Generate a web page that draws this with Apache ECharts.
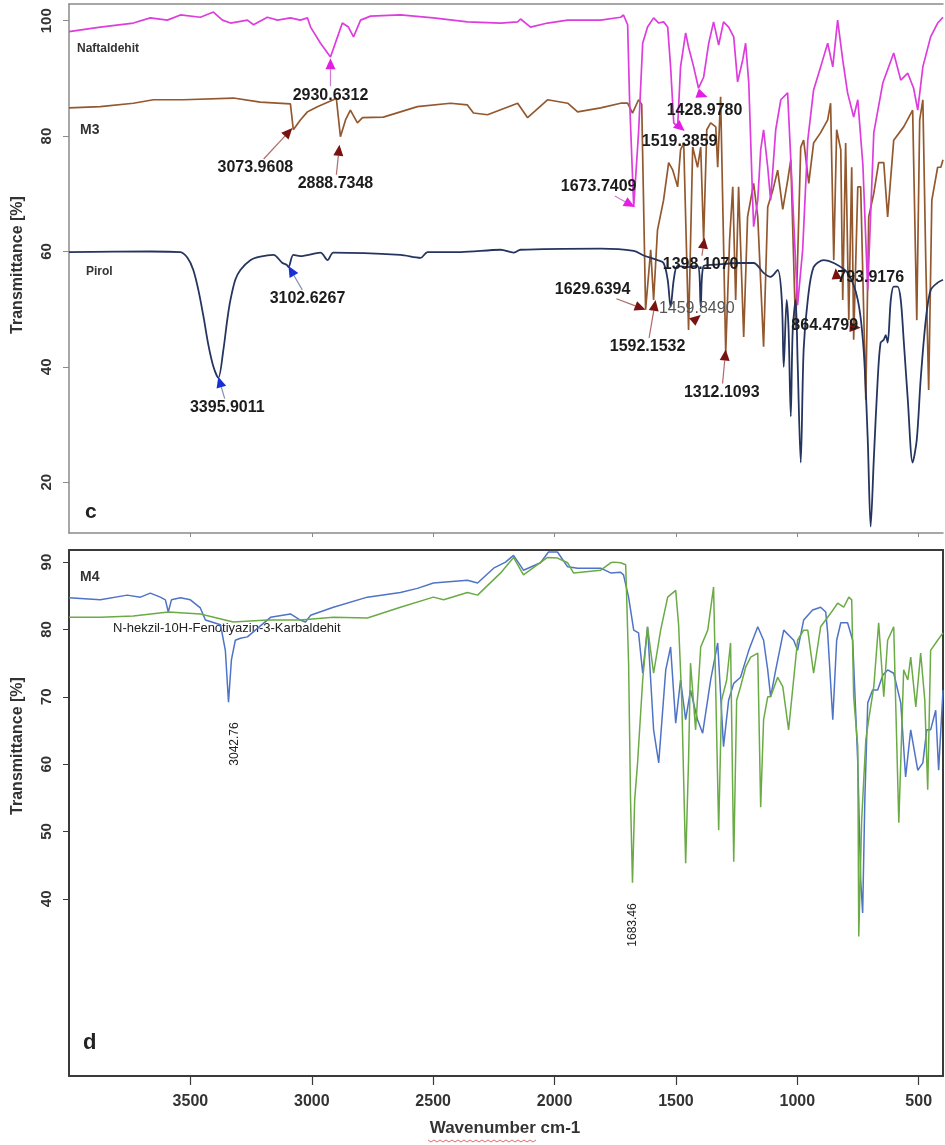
<!DOCTYPE html>
<html>
<head>
<meta charset="utf-8">
<title>FTIR c / d</title>
<script src="https://cdn.jsdelivr.net/npm/echarts@6/dist/echarts.min.js"></script>
<style>
  html, body { margin: 0; padding: 0; background: #fff; }
  #chart { width: 945px; height: 1145px; }
</style>
</head>
<body>
<div id="chart"></div>
<script>
// wavenumber (cm-1), transmittance (%)
const naftaldehit = [
  [4000, 98.1], [3871, 98.9], [3735, 99.6], [3665, 100.5], [3595, 100.1], [3541, 101], [3459, 100.6],
  [3405, 101.5], [3368, 100.1], [3335, 99.6], [3265, 100.1], [3240, 99.3], [3183, 100.6], [3141, 100.1],
  [3088, 100.5], [3047, 100.1], [3018, 100.5], [3005, 98.9], [2964, 96.1], [2923, 93.7], [2894, 97.2],
  [2874, 99.6], [2849, 98.9], [2828, 97.2], [2799, 100.1], [2758, 100.8], [2635, 101], [2499, 100.5],
  [2359, 99.8], [2222, 99.6], [2152, 99.8], [2140, 100.3], [2099, 98.9], [2029, 99.6], [1946, 100.1],
  [1810, 100.1], [1728, 100.6], [1716, 101], [1699, 99.3], [1691, 86.3], [1674, 67.7], [1654, 80.6],
  [1637, 96.1], [1617, 98.9], [1592, 100.5], [1571, 99.6], [1551, 99.8], [1534, 98.9], [1522, 92],
  [1509, 82.3], [1493, 81.6], [1481, 92], [1460, 97.9], [1448, 95.4], [1427, 92], [1407, 88.3],
  [1386, 90.2], [1365, 96.1], [1345, 99.8], [1324, 95.8], [1304, 99.8], [1283, 98.9], [1262, 97.2],
  [1246, 89.4], [1225, 93.2], [1213, 96.1], [1200, 89.2], [1184, 68.9], [1180, 64.3], [1163, 68.9],
  [1151, 77.6], [1139, 81.1], [1122, 74.6], [1110, 68.9], [1089, 81.1], [1068, 86.3], [1040, 87.5],
  [1019, 68.9], [999, 50.7], [978, 60.3], [957, 79.3], [933, 88], [904, 92], [875, 96.1], [854, 92],
  [834, 100.1], [813, 93.2], [793, 87.5], [768, 83.3], [751, 86.3], [730, 75], [710, 53.3], [685, 80.6],
  [648, 89.2], [603, 94.4], [574, 89.7], [545, 90.9], [521, 88.3], [504, 84.5], [483, 92], [451, 97.2],
  [422, 99.6], [400, 100.6]
];
const m3 = [
  [4000, 84.9], [3871, 85.1], [3735, 85.7], [3652, 86.3], [3529, 86.3], [3323, 86.6], [3212, 85.9],
  [3088, 85.6], [3076, 81.1], [3047, 82.8], [3018, 84.2], [3005, 84.5], [2977, 85.1], [2911, 86.3],
  [2899, 86.6], [2882, 79.9], [2861, 82.8], [2841, 84.5], [2812, 82.3], [2791, 83.2], [2705, 83.3],
  [2565, 85.1], [2429, 85.7], [2359, 85.4], [2334, 84], [2276, 83.7], [2152, 85.7], [2111, 83.2],
  [2029, 86.3], [1946, 85.7], [1905, 84.2], [1810, 84.9], [1728, 85.7], [1699, 85.7], [1679, 84],
  [1654, 86.3], [1641, 85.5], [1625, 49.9], [1604, 60.3], [1592, 51.6], [1576, 63.7], [1551, 68.9],
  [1530, 75.4], [1513, 74.1], [1493, 71.2], [1481, 77.6], [1468, 78.8], [1448, 46.4], [1431, 78.1],
  [1411, 74.6], [1398, 78.1], [1386, 62], [1373, 81.1], [1357, 82.3], [1336, 81.6], [1328, 74.6],
  [1316, 86.8], [1308, 86.8], [1295, 42.5], [1279, 62], [1266, 71.2], [1254, 51.6], [1242, 71.2],
  [1221, 45.2], [1205, 66], [1180, 71.8], [1163, 66], [1139, 43.5], [1122, 67.7], [1101, 70.6],
  [1081, 74.1], [1060, 67.3], [1040, 72.3], [1027, 75.9], [1007, 46.4], [986, 78.1], [974, 79.3],
  [953, 71.8], [933, 78.8], [904, 80.6], [875, 82.8], [863, 85.7], [850, 58.5], [838, 81.1], [821, 77.6],
  [813, 51.6], [801, 78.8], [788, 48.1], [776, 74.6], [768, 44.7], [751, 71.2], [739, 71.2], [718, 34.3],
  [706, 66], [685, 70.1], [665, 75.4], [644, 75.4], [628, 66], [603, 79.3], [562, 81.6], [525, 84.5],
  [508, 48.1], [496, 82.8], [483, 86.3], [471, 58.5], [459, 36], [446, 68.9], [422, 74.6], [409, 74.6],
  [400, 75.9]
];
const pirol = [
  [4000, 59.9], [3665, 60], [3541, 59.9], [3512, 58.9], [3488, 56.8], [3467, 53.3], [3446, 48.7],
  [3426, 43.8], [3405, 40], [3385, 38.1], [3364, 43], [3348, 48.2], [3335, 51.6], [3315, 55.1],
  [3294, 56.8], [3253, 58.5], [3212, 59.1], [3158, 59.4], [3121, 58], [3104, 57.7], [3096, 57.3],
  [3076, 59.4], [3047, 59.2], [2964, 59.8], [2935, 58.5], [2911, 59.8], [2635, 59.4], [2552, 58.9],
  [2523, 59.9], [2387, 59.9], [2222, 60.3], [2169, 59.8], [2140, 60.3], [1810, 60.5], [1674, 60.1],
  [1633, 59.3], [1576, 58.5], [1551, 58], [1534, 55.1], [1522, 50.4], [1509, 55.1], [1493, 57.5],
  [1452, 57.3], [1411, 57.5], [1398, 50.4], [1386, 57.5], [1345, 57.7], [1234, 58], [1180, 58],
  [1139, 56.3], [1110, 55.6], [1081, 56.8], [1064, 51.6], [1056, 40], [1044, 51.6], [1036, 46.4],
  [1027, 31.4], [1019, 46.4], [1007, 51.6], [999, 41.2], [986, 23.4], [974, 43], [957, 51.6],
  [933, 57.3], [891, 58.5], [850, 58], [793, 56.3], [751, 51.6], [727, 43], [710, 27.4], [698, 12.3],
  [685, 24], [669, 37.8], [657, 44.2], [644, 44.7], [636, 45.5], [628, 44.2], [615, 51.6], [603, 53.9],
  [587, 53.9], [574, 51.6], [562, 44.7], [545, 34.3], [525, 23.4], [508, 27.4], [492, 37.8], [471, 48.1],
  [451, 53.3], [422, 54.6], [400, 55.1]
];
const m4 = [
  [4000, 84.7], [3871, 84.4], [3760, 85.1], [3706, 84.8], [3665, 85.4], [3624, 84.8], [3603, 84.4],
  [3591, 82.6], [3578, 84.4], [3541, 84.7], [3500, 84.4], [3459, 83.2], [3438, 81.4], [3376, 80.7],
  [3356, 76.9], [3343, 69.2], [3331, 75.5], [3315, 78.4], [3294, 78.7], [3265, 78.9], [3170, 81.8],
  [3088, 82.3], [3047, 81.4], [3026, 81.1], [3005, 82.1], [2911, 83.3], [2771, 84.8], [2635, 85.5],
  [2565, 86.1], [2499, 86.9], [2359, 87.3], [2317, 86.9], [2251, 89.1], [2202, 90], [2169, 91],
  [2128, 88.8], [2058, 89.9], [2025, 91.5], [1988, 91.5], [1946, 89.3], [1905, 89.1], [1810, 89.1],
  [1769, 88.4], [1728, 88.5], [1716, 88.1], [1695, 84.8], [1674, 79.9], [1654, 79.5], [1637, 73.5],
  [1617, 80.4], [1592, 65.1], [1571, 60.2], [1542, 74], [1522, 77.4], [1501, 66.1], [1481, 72.5],
  [1460, 66.6], [1440, 71], [1411, 66.6], [1390, 64.6], [1357, 72.5], [1328, 78], [1304, 62.6],
  [1283, 69.5], [1262, 72], [1234, 72.9], [1200, 76.9], [1163, 80.4], [1139, 78.4], [1122, 74],
  [1110, 70], [1089, 74], [1056, 79.9], [1015, 78.4], [999, 76.9], [974, 81.4], [937, 82.9], [904, 83.3],
  [883, 82.6], [875, 79.5], [854, 66.6], [838, 78.4], [821, 81], [793, 81], [772, 78.4], [751, 60.2],
  [739, 42.8], [731, 37.9], [722, 54.7], [710, 69.1], [690, 71], [669, 71], [648, 73.2], [628, 74],
  [603, 73.5], [574, 69.1], [554, 58.1], [533, 65.1], [525, 65.1], [504, 59.1], [483, 60.2], [467, 65.1],
  [451, 65.1], [430, 68], [418, 59.1], [400, 71]
];
const karbaldehit = [
  [4000, 81.8], [3871, 81.8], [3735, 82], [3591, 82.6], [3459, 82.3], [3323, 81.1], [3183, 81.4],
  [3047, 81.4], [2911, 81.8], [2771, 81.7], [2635, 83.3], [2499, 84.8], [2457, 84.4], [2359, 85.5],
  [2317, 85.1], [2222, 88.4], [2169, 90.7], [2128, 88.1], [2029, 90.7], [1988, 90.6], [1946, 89.9],
  [1922, 88.4], [1810, 88.8], [1769, 89.9], [1757, 90], [1728, 89.9], [1707, 89.6], [1695, 75],
  [1687, 54.7], [1679, 42.4], [1670, 54.7], [1658, 60.2], [1637, 72.5], [1617, 80.4], [1592, 73.5],
  [1563, 79.9], [1534, 84.8], [1501, 85.8], [1489, 80.7], [1476, 69.5], [1460, 45.3], [1448, 60.6],
  [1440, 75], [1419, 65.1], [1398, 77.4], [1369, 79.9], [1345, 86.3], [1324, 50.2], [1312, 69.5],
  [1291, 72.5], [1275, 78], [1262, 45.5], [1250, 69.5], [1234, 71.5], [1213, 74.4], [1192, 75.9],
  [1163, 76.5], [1151, 53.6], [1139, 66.6], [1122, 70], [1110, 70], [1081, 72.9], [1060, 71.5],
  [1036, 65.1], [999, 78.4], [974, 79.9], [957, 79.9], [933, 73.5], [904, 80.4], [863, 82.4], [834, 83.9],
  [809, 83.3], [788, 84.8], [776, 84.4], [768, 70], [751, 62.6], [747, 34.4], [735, 51.7], [718, 63.6],
  [706, 66.6], [685, 71.5], [665, 81], [644, 70], [628, 78.4], [603, 80.4], [582, 51.3], [562, 74],
  [545, 72.5], [533, 75.9], [512, 68.5], [492, 76.5], [475, 69.5], [463, 56.2], [451, 76.9], [422, 78.4],
  [400, 79.5]
];

const xTicks = [3500, 3000, 2500, 2000, 1500, 1000, 500];
const yTicksC = [20, 40, 60, 80, 100];
const yTicksD = [40, 50, 60, 70, 80, 90];

// marked peaks in panel c: wavenumber, transmittance, text, spectrum
const peaksC = [
  [2923, 93.5, '2930.6312', 'naft'],
  [3080, 81.4, '3073.9608', 'm3'],
  [2886, 78.5, '2888.7348', 'm3'],
  [1670, 67.7, '1673.7409', 'naft'],
  [1464, 80.9, '1519.3859', 'naft'],
  [1370, 86.8, '1428.9780', 'naft'],
  [1382, 62.4, '1398.1070', 'm3'],
  [1625, 49.9, '1629.6394', 'm3'],
  [1584, 51.6, '1592.1532', 'm3'],
  [1398, 49.0, '1459.8490', 'm3'],
  [1295, 43.0, '1312.1093', 'm3'],
  [739, 46.8, '864.4799', 'm3'],
  [842, 57.1, '793.9176', 'm3'],
  [3385, 38.3, '3395.9011', 'pirol'],
  [3096, 57.5, '3102.6267', 'pirol']
];
// label placement for each peak (px offsets), optional arrow direction in degrees
const peakLayout = [
  { dx: 0, dy: 37 },
  { dx: -37, dy: 40 },
  { dx: -4, dy: 39 },
  { dx: -36, dy: -20 },
  { dx: -5, dy: 11, dir: -40, noLine: true },
  { dx: -3, dy: 14, dir: -20, noLine: true },
  { dx: -4, dy: 27 },
  { dx: -53, dy: -20 },
  { dx: -8, dy: 47 },
  { dx: -4, dy: -6, dir: 40, noLine: true, light: true },
  { dx: -4, dy: 43 },
  { dx: -36, dy: -2, noLine: true },
  { dx: 35, dy: 9, dir: 95, noLine: true },
  { dx: 9, dy: 31 },
  { dx: 19, dy: 33 }
];

const colors = {
  naft: '#dd3ddd',
  m3: '#93582e',
  pirol: '#25355f',
  m4: '#4f73c6',
  karb: '#6aab45'
};
const arrowColors = { naft: '#e41fe4', m3: '#7a1212', pirol: '#1730d6' };
const leaderColors = { naft: '#d27ad2', m3: '#b06a6a', pirol: '#8090b0' };

const FONT = '"Liberation Sans", Arial, sans-serif';

function renderPeak(params, api) {
  const i = params.dataIndex;
  const peak = peaksC[i];
  const lay = peakLayout[i];
  const p = api.coord([api.value(0), api.value(1)]);
  let ux, uy;
  if (lay.dir != null) {
    const a = lay.dir * Math.PI / 180;
    ux = Math.cos(a); uy = -Math.sin(a);
  } else {
    const d = Math.hypot(lay.dx, lay.dy) || 1;
    ux = -lay.dx / d; uy = -lay.dy / d;
  }
  const L = 11, W = 5;
  const bx = p[0] - ux * L, by = p[1] - uy * L;
  const tx = p[0] + lay.dx, ty = p[1] + lay.dy;
  const children = [];
  if (!lay.noLine) {
    const vx = tx - bx, vy = ty - by;
    const s = Math.min(vx ? 40 / Math.abs(vx) : Infinity, vy ? 9 / Math.abs(vy) : Infinity);
    if (s < 1) {
      children.push({
        type: 'line',
        shape: { x1: bx, y1: by, x2: tx - vx * s, y2: ty - vy * s },
        style: { stroke: leaderColors[peak[3]], lineWidth: 1.2 }
      });
    }
  }
  children.push({
    type: 'polygon',
    shape: { points: [[p[0], p[1]], [bx - uy * W, by + ux * W], [bx + uy * W, by - ux * W]] },
    style: { fill: arrowColors[peak[3]] }
  });
  children.push({
    type: 'text',
    style: {
      text: peak[2], x: tx, y: ty, align: 'center', verticalAlign: 'middle',
      font: (lay.light ? '' : 'bold ') + '16px ' + FONT,
      fill: lay.light ? '#555' : '#1c1c1c'
    }
  });
  return { type: 'group', children };
}

const chart = echarts.init(document.getElementById('chart'), null, { renderer: 'canvas' });

const grayAxis = '#8a8a8a';
const darkAxis = '#3a3a3a';
const plain = v => String(v);

chart.setOption({
  animation: false,
  backgroundColor: '#fff',
  grid: [
    { left: 69, right: 2, top: 4, height: 529 },
    { left: 69, right: 2, top: 550, height: 526 }
  ],
  xAxis: [
    {
      gridIndex: 0, type: 'value', min: 400, max: 4000, inverse: true,
      axisLine: { show: true, lineStyle: { color: grayAxis, width: 1.5 } },
      axisTick: { show: true, customValues: xTicks, length: 4, lineStyle: { color: grayAxis } },
      axisLabel: { show: false }, splitLine: { show: false }
    },
    {
      gridIndex: 0, type: 'value', position: 'top', min: 400, max: 4000, inverse: true,
      axisLine: { show: true, lineStyle: { color: grayAxis, width: 1.5 } },
      axisTick: { show: false }, axisLabel: { show: false }, splitLine: { show: false }
    },
    {
      gridIndex: 1, type: 'value', min: 400, max: 4000, inverse: true,
      axisLine: { show: true, lineStyle: { color: darkAxis, width: 2 } },
      axisTick: { show: true, customValues: xTicks, length: 9, lineStyle: { color: darkAxis, width: 1.2 } },
      axisLabel: {
        customValues: xTicks, formatter: plain, margin: 18, color: '#333',
        fontFamily: FONT, fontWeight: 'bold', fontSize: 16
      },
      splitLine: { show: false }
    },
    {
      gridIndex: 1, type: 'value', position: 'top', min: 400, max: 4000, inverse: true,
      axisLine: { show: true, lineStyle: { color: darkAxis, width: 2 } },
      axisTick: { show: false }, axisLabel: { show: false }, splitLine: { show: false }
    }
  ],
  yAxis: [
    {
      gridIndex: 0, type: 'value', min: 11.2, max: 102.9,
      axisLine: { show: true, lineStyle: { color: grayAxis, width: 1.5 } },
      axisTick: { show: true, customValues: yTicksC, length: 6, lineStyle: { color: grayAxis } },
      axisLabel: {
        customValues: yTicksC, formatter: plain, rotate: 90, margin: 15, color: '#333',
        fontFamily: FONT, fontWeight: 'bold', fontSize: 15
      },
      splitLine: { show: false }
    },
    {
      gridIndex: 1, type: 'value', min: 13.7, max: 91.8,
      axisLine: { show: true, lineStyle: { color: darkAxis, width: 2 } },
      axisTick: { show: true, customValues: yTicksD, length: 6, lineStyle: { color: darkAxis } },
      axisLabel: {
        customValues: yTicksD, formatter: plain, rotate: 90, margin: 15, color: '#333',
        fontFamily: FONT, fontWeight: 'bold', fontSize: 15
      },
      splitLine: { show: false }
    },
    {
      gridIndex: 1, type: 'value', position: 'right', min: 13.7, max: 91.8,
      axisLine: { show: true, lineStyle: { color: darkAxis, width: 2 } },
      axisTick: { show: false }, axisLabel: { show: false }, splitLine: { show: false }
    }
  ],
  series: [
    {
      name: 'M3', type: 'line', xAxisIndex: 0, yAxisIndex: 0, data: m3,
      showSymbol: false, lineStyle: { color: colors.m3, width: 1.7 }
    },
    {
      name: 'Naftaldehit', type: 'line', xAxisIndex: 0, yAxisIndex: 0, data: naftaldehit,
      showSymbol: false, lineStyle: { color: colors.naft, width: 1.7 }
    },
    {
      name: 'Pirol', type: 'line', xAxisIndex: 0, yAxisIndex: 0, data: pirol,
      showSymbol: false, smooth: 0.3, lineStyle: { color: colors.pirol, width: 1.8 }
    },
    {
      name: 'peaks', type: 'custom', xAxisIndex: 0, yAxisIndex: 0, clip: false, z: 5,
      data: peaksC.map(p => [p[0], p[1]]),
      renderItem: renderPeak
    },
    {
      name: 'M4', type: 'line', xAxisIndex: 2, yAxisIndex: 1, data: m4,
      showSymbol: false, lineStyle: { color: colors.m4, width: 1.5 }
    },
    {
      name: 'N-hekzil-10H-Fenotiyazin-3-Karbaldehit', type: 'line', xAxisIndex: 2, yAxisIndex: 1,
      data: karbaldehit, showSymbol: false, lineStyle: { color: colors.karb, width: 1.5 }
    }
  ],
  graphic: [
    { type: 'text', left: 77, top: 43, style: { text: 'Naftaldehit', font: 'bold 12px ' + FONT, fill: '#333' } },
    { type: 'text', left: 80, top: 123, style: { text: 'M3', font: 'bold 14px ' + FONT, fill: '#333' } },
    { type: 'text', left: 86, top: 266, style: { text: 'Pirol', font: 'bold 12px ' + FONT, fill: '#333' } },
    { type: 'text', left: 85, top: 502, style: { text: 'c', font: 'bold 21px ' + FONT, fill: '#222' } },
    { type: 'text', left: 80, top: 570, style: { text: 'M4', font: 'bold 14px ' + FONT, fill: '#333' } },
    { type: 'text', left: 113, top: 622, style: { text: 'N-hekzil-10H-Fenotiyazin-3-Karbaldehit', font: '13px ' + FONT, fill: '#222' } },
    { type: 'text', x: 235, y: 744, rotation: Math.PI / 2, style: { text: '3042.76', font: '12px ' + FONT, fill: '#222', align: 'center', verticalAlign: 'middle' } },
    { type: 'text', x: 633, y: 925, rotation: Math.PI / 2, style: { text: '1683.46', font: '12px ' + FONT, fill: '#222', align: 'center', verticalAlign: 'middle' } },
    { type: 'text', left: 83, top: 1032, style: { text: 'd', font: 'bold 22px ' + FONT, fill: '#222' } },
    { type: 'text', x: 18, y: 265, rotation: Math.PI / 2, style: { text: 'Transmittance [%]', font: 'bold 16px ' + FONT, fill: '#333', align: 'center', verticalAlign: 'middle' } },
    { type: 'text', x: 18, y: 746, rotation: Math.PI / 2, style: { text: 'Transmittance [%]', font: 'bold 16px ' + FONT, fill: '#333', align: 'center', verticalAlign: 'middle' } },
    { type: 'text', x: 505, y: 1128, style: { text: 'Wavenumber cm-1', font: 'bold 17px ' + FONT, fill: '#333', align: 'center', verticalAlign: 'middle' } },
    {
      type: 'polyline', shape: { points: [[428, 1140], [431, 1142], [434, 1140], [437, 1142], [440, 1140], [443, 1142], [446, 1140], [449, 1142], [452, 1140], [455, 1142], [458, 1140], [461, 1142], [464, 1140], [467, 1142], [470, 1140], [473, 1142], [476, 1140], [479, 1142], [482, 1140], [485, 1142], [488, 1140], [491, 1142], [494, 1140], [497, 1142], [500, 1140], [503, 1142], [506, 1140], [509, 1142], [512, 1140], [515, 1142], [518, 1140], [521, 1142], [524, 1140], [527, 1142], [530, 1140], [533, 1142], [536, 1140]] },
      style: { stroke: '#e06a6a', lineWidth: 1, fill: null }
    }
  ]
});
</script>
</body>
</html>
